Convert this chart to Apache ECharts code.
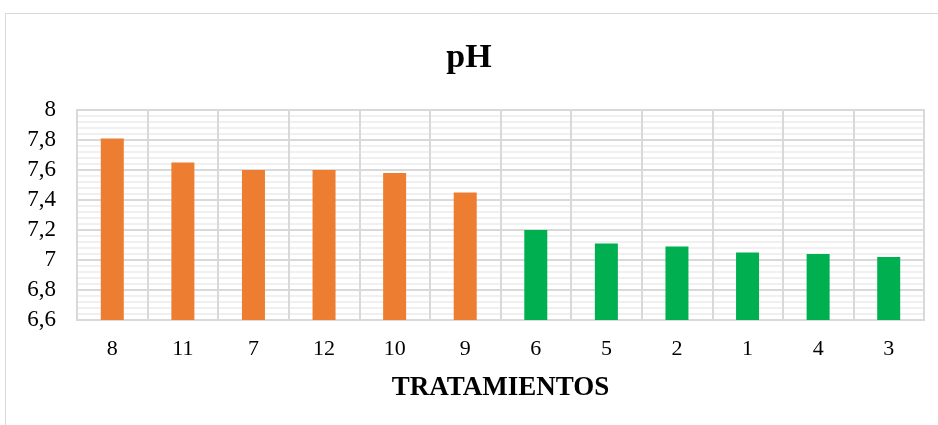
<!DOCTYPE html>
<html>
<head>
<meta charset="utf-8">
<script src="https://cdn.jsdelivr.net/npm/echarts@6/dist/echarts.min.js"></script>
<style>
  html, body { margin: 0; padding: 0; background: #fff; }
  #chart { width: 938px; height: 425px; }
</style>
</head>
<body>
<div id="chart"></div>
<script>
// Treatments, ordered from highest to lowest pH
const categories = ['8', '11', '7', '12', '10', '9', '6', '5', '2', '1', '4', '3'];
const phValues = [7.81, 7.65, 7.60, 7.60, 7.58, 7.45, 7.20, 7.11, 7.09, 7.05, 7.04, 7.02];
// First six treatments are drawn orange, the rest green
const groupOf = ['high', 'high', 'high', 'high', 'high', 'high', 'low', 'low', 'low', 'low', 'low', 'low'];
const groupColors = { high: '#ED7D31', low: '#00B050' };
const yTicks = { min: 6.6, max: 8, step: 0.2 };

const serif = '"Liberation Serif", "Times New Roman", serif';
const chart = echarts.init(document.getElementById('chart'));

chart.setOption({
  animation: false,
  backgroundColor: '#fff',
  graphic: [{
    type: 'rect',
    shape: { x: 5.5, y: 13.5, width: 960, height: 440 },
    style: { fill: 'none', stroke: '#d9d9d9', lineWidth: 1 },
    silent: true,
    z: -10
  }],
  title: {
    text: 'pH',
    left: 'center',
    top: 36,
    textStyle: { fontFamily: serif, fontWeight: 'bold', fontSize: 34, color: '#000' }
  },
  grid: {
    left: 77, right: 14, top: 110, bottom: 105,
    show: true, borderColor: '#d9d9d9', borderWidth: 2
  },
  xAxis: {
    type: 'category',
    data: categories,
    name: 'TRATAMIENTOS',
    nameLocation: 'middle',
    nameGap: 55,
    nameTextStyle: { fontFamily: serif, fontWeight: 'bold', fontSize: 27, color: '#000' },
    axisLine: { show: true, lineStyle: { color: '#d9d9d9', width: 2 } },
    axisTick: { show: false },
    axisLabel: { fontFamily: serif, fontSize: 22, color: '#000', margin: 18 },
    splitLine: { show: true, lineStyle: { color: '#d9d9d9', width: 2 } }
  },
  yAxis: {
    type: 'value',
    min: yTicks.min,
    max: yTicks.max,
    interval: yTicks.step,
    axisLine: { show: false },
    axisTick: { show: false },
    axisLabel: {
      fontFamily: serif, fontSize: 23, color: '#000', margin: 21,
      formatter: v => String(Math.round(v * 10) / 10).replace('.', ',')
    },
    splitLine: { show: true, lineStyle: { color: '#d9d9d9', width: 2 } },
    minorTick: { show: false, splitNumber: 5 },
    minorSplitLine: { show: true, lineStyle: { color: '#f0f0f0', width: 2 } }
  },
  series: [{
    type: 'bar',
    barWidth: 23,
    data: phValues.map((v, i) => ({ value: v, itemStyle: { color: groupColors[groupOf[i]] } }))
  }]
});
</script>
</body>
</html>
